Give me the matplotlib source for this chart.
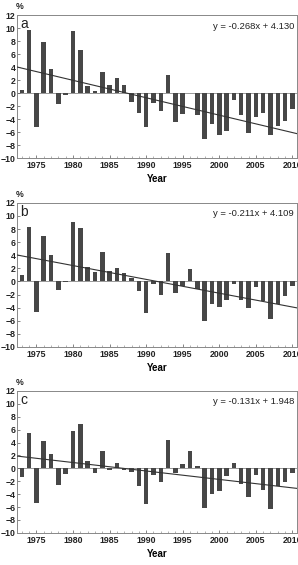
import numpy as np
import matplotlib.pyplot as plt

plt.rcParams['font.family'] = ['Liberation Sans', 'DejaVu Sans']

years = list(range(1973, 2011))

vals_a = [0.5, 9.8, -5.2, 7.9, 3.8, -1.7, -0.2, 9.6, 6.6, 1.1,
          0.3, 3.2, 1.3, 2.3, 1.2, -1.4, -3.1, -5.2, -1.5, -2.7,
          2.8, -4.5, -3.2, 0.1, -3.4, -7.1, -4.7, -6.5, -5.8, -1.1,
          -3.4, -6.1, -3.7, -3.1, -6.5, -5.1, -4.3, -2.4]
vals_b = [1.0, 8.3, -4.6, 7.0, 4.0, -1.3, -0.1, 9.0, 8.2, 2.2,
          1.4, 4.5, 1.6, 2.1, 1.3, 0.5, -1.5, -4.8, -0.4, -2.1,
          4.3, -1.7, -0.7, 1.9, -1.2, -6.0, -3.4, -3.9, -2.9, -0.4,
          -2.9, -4.0, -0.9, -3.0, -5.7, -3.5, -2.2, -0.7]
vals_c = [-1.3, 5.5, -5.4, 4.3, 2.3, -2.6, -0.9, 5.8, 6.8, 1.1,
          -0.7, 2.7, -0.2, 0.8, -0.3, -0.6, -2.8, -5.6, -1.1, -2.1,
          4.4, -0.7, 0.7, 2.7, 0.4, -6.1, -4.0, -3.5, -1.2, 0.8,
          -2.5, -4.5, -1.0, -3.3, -6.3, -2.8, -2.1, -0.7]

panels = [
    ('a', vals_a, -0.268, 4.130),
    ('b', vals_b, -0.211, 4.109),
    ('c', vals_c, -0.131, 1.948),
]
# axes rectangles (left, bottom, width, height) in figure fraction
rects = [(0.056, 0.720, 0.940, 0.253),
         (0.056, 0.386, 0.940, 0.255),
         (0.056, 0.057, 0.940, 0.251)]

fig = plt.figure(figsize=(2.98, 5.65), dpi=100)

for (letter, vals, slope, icpt), rect in zip(panels, rects):
    ax = fig.add_axes(rect)
    ax.bar(years, vals, width=0.62, color='#474747', zorder=2)
    ax.axhline(0, color='#888888', lw=0.6, zorder=1)

    xs = np.array([1972.3, 2010.6])
    ax.plot(xs, slope * (xs - 1972) + icpt, color='#333333', lw=0.8, zorder=3)

    ax.set_xlim(1972.3, 2010.6)
    ax.set_ylim(-10, 12)
    ax.set_yticks(range(-10, 13, 2))
    ax.set_xticks(range(1975, 2011, 5))
    ax.set_xticks(years, minor=True)
    ax.tick_params(axis='both', which='major', direction='in', length=2,
                   width=0.5, labelsize=6.3, pad=2, colors='#555555',
                   labelcolor='#222222')
    ax.tick_params(axis='y', which='major', pad=1)
    ax.tick_params(axis='x', which='minor', direction='in', length=1.5,
                   width=0.4, colors='#777777')
    for lab in ax.get_xticklabels() + ax.get_yticklabels():
        lab.set_fontweight('bold')
    for sp in ax.spines.values():
        sp.set_color('#888888')
        sp.set_linewidth(0.7)

    ax.set_xlabel('Year', fontsize=7, fontweight='bold', labelpad=3)
    ax.text(0.012, 0.985, letter, transform=ax.transAxes, fontsize=10,
            va='top', ha='left', color='#222222')
    ax.text(0.99, 0.955, f'y = {slope:.3f}x + {icpt:.3f}',
            transform=ax.transAxes, fontsize=6.8, va='top', ha='right',
            color='#222222')
    ax.text(-0.005, 1.03, '%', transform=ax.transAxes, fontsize=6.3,
            fontweight='bold', va='bottom', ha='left', color='#222222')

fig.savefig('out.png', dpi=100)
